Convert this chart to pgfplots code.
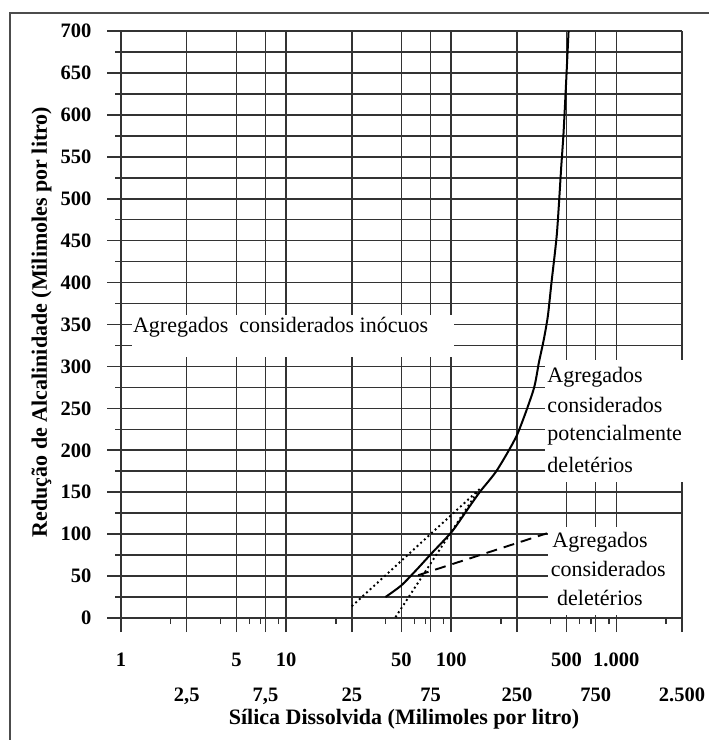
\documentclass[border=0pt]{standalone}
\usepackage{pgfplots}
\pgfplotsset{compat=1.18}
\usepackage{fontspec}
\setmainfont{Liberation Serif}
\begin{document}
\begin{tikzpicture}[x=1pt,y=1pt]
\path[use as bounding box] (-121,-122) rectangle (588,618);
\draw[black!70, line width=1.8pt] (-111,-122) -- (-111,605) -- (588,605);
\begin{axis}[
  at={(0,0)}, anchor=south west,
  scale only axis, width=561pt, height=587pt,
  xmode=log, log basis x=10,
  xmin=1, xmax=2500, ymin=0, ymax=700,
  clip=false,
  axis line style={draw=none},
  xtick={1,5,10,50,100,500,1000},
  xticklabels={1,5,10,50,100,500,1.000},
  extra x ticks={2.5,7.5,25,75,250,750,2500},
  extra x tick labels={{2,5},{7,5},25,75,250,750,2.500},
  extra x tick style={grid=major, xticklabel style={yshift=-35pt}},
  minor xtick={2,4,6,7,9,20,40,60,70,90,200,400,600,700,900,2000},
  ytick={0,50,...,700},
  yticklabels={0,50,100,150,200,250,300,350,400,450,500,550,600,650,700},
  minor ytick={25,75,...,675},
  xmajorgrids, ymajorgrids, yminorgrids,
  grid style={black!80, line width=1.6pt},
  major grid style={black!80, line width=1.6pt},
  minor grid style={black!80, line width=1.6pt},
  tick style={black!80, line width=1.6pt},
  tick align=outside, tick pos=left,
  major tick length=14pt, minor tick length=6pt,
  tick label style={font=\fontsize{20.5}{24}\selectfont\bfseries},
  xticklabel style={anchor=base, yshift=-34pt},
  yticklabel style={xshift=-12pt},
]
% white label areas
\fill[white] (axis cs:1.166,311) rectangle (axis cs:104,361);
\fill[white] (axis cs:372,162) rectangle (axis cs:2700,308);
\fill[white] (axis cs:387,3) rectangle (axis cs:2470,108.5);

% solid limit curve
\addplot[black, line width=2pt, smooth, tension=0.4] coordinates {
(40,25) (50,39) (62,58) (76,77) (101,103) (125,129) (150,151) (189,176)
(250,218) (315,272) (340,305) (363,331) (385,360) (405,400) (437,459)
(464,538) (479,578) (497,640) (514,700)};
% dotted lines
\addplot[black, line width=1.9pt, dash pattern=on 1.9pt off 3pt] coordinates {(25,14) (153,156)};
\addplot[black, line width=1.9pt, dash pattern=on 1.9pt off 3pt] coordinates {(46,1) (146,152)};
% dashed line
\addplot[black, line width=1.9pt, dash pattern=on 11pt off 7pt] coordinates {(63,51) (380,101)};

\begin{scope}[every node/.style={inner sep=0pt, anchor=base west, font=\fontsize{22}{26}\selectfont}]
\node at (axis cs:1.18,340) {Agregados\ \ considerados inócuos};
\node at (axis cs:382,281) {Agregados};
\node at (axis cs:382,245.6) {considerados};
\node at (axis cs:382,212) {potencialmente};
\node at (axis cs:382,174) {deletérios};
\node at (axis cs:409,83.5) {Agregados};
\node at (axis cs:400,50) {considerados};
\node at (axis cs:437,15.5) {deletérios};
\end{scope}
\end{axis}
\node[font=\fontsize{22}{26}\selectfont\bfseries, inner sep=0pt, anchor=base] at (283,-106) {Sílica Dissolvida (Milimoles por litro)};
\node[font=\fontsize{22}{26}\selectfont\bfseries, inner sep=0pt, anchor=base, rotate=90] at (-74,296) {Redução de Alcalinidade (Milimoles por litro)};
\end{tikzpicture}
\end{document}
